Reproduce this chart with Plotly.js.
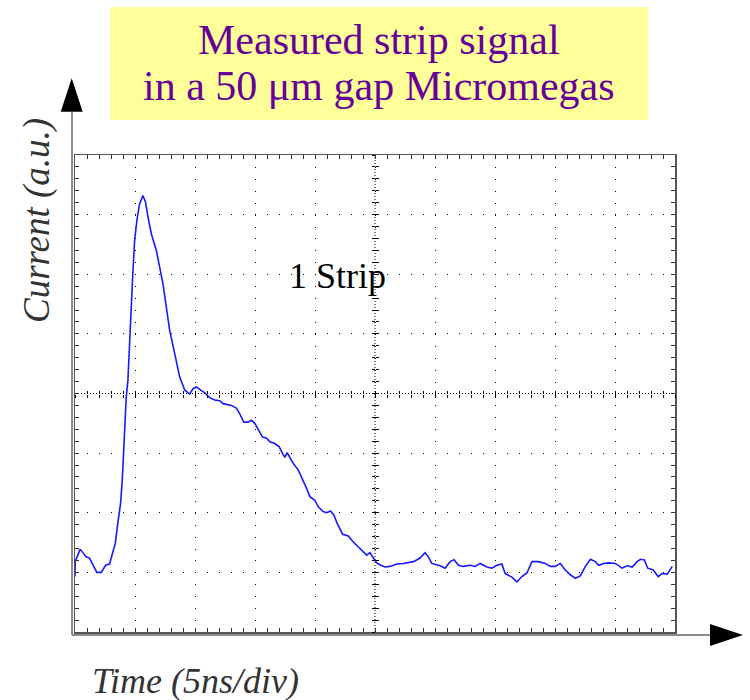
<!DOCTYPE html>
<html>
<head>
<meta charset="utf-8">
<script src="https://cdn.plot.ly/plotly-3.0.1.min.js"></script>
<style>html,body{margin:0;padding:0;background:#fff;}#chart{width:750px;height:700px;}</style>
</head>
<body>
<div id="chart"></div>
<script>
// Time in ns (5 ns / division), current in a.u. (divisions)
const timeNs = [0, 0.02, 0.43, 0.93, 1.21, 1.49, 1.82, 2.19, 2.55, 2.88, 3.16, 3.36, 3.57, 3.80, 3.94, 4.07, 4.27, 4.41, 4.55, 4.69,
  4.82, 4.97, 5.16, 5.38, 5.66, 5.88, 6.08, 6.36, 6.78, 7.05, 7.33, 7.61, 7.89, 8.31, 8.72, 9.14, 9.56, 9.83, 10.12, 10.39,
  10.81, 11.23, 11.64, 12.06, 12.34, 13.04, 13.46, 13.73, 14.06, 14.42, 14.71, 14.98, 15.26, 15.63, 15.96, 16.24, 16.65, 17.01, 17.30, 17.49,
  17.68, 17.90, 18.18, 18.60, 19.01, 19.30, 19.57, 19.99, 20.27, 20.68, 20.97, 21.30, 21.58, 21.85, 22.30, 22.77, 23.19, 23.61, 24.02, 24.31,
  24.58, 24.81, 25.14, 25.48, 25.83, 26.25, 26.81, 27.36, 28.20, 28.76, 29.17, 29.45, 29.73, 30.43, 30.84, 31.26, 31.59, 31.95, 32.37, 32.93,
  33.35, 33.76, 34.32, 34.74, 35.16, 35.57, 35.85, 36.41, 36.83, 37.24, 37.66, 38.08, 38.63, 39.19, 39.61, 40.02, 40.44, 40.86, 41.28, 41.69,
  42.11, 42.53, 42.95, 43.36, 43.64, 44.06, 44.47, 45.03, 45.59, 46.01, 46.43, 46.84, 47.12, 47.45, 47.73, 48.18, 48.60, 48.93, 49.35, 49.77];

const current = [-3.07, -2.82, -2.61, -2.74, -2.76, -2.88, -3.00, -3.00, -2.88, -2.86, -2.68, -2.51, -2.17, -1.84, -1.45, -0.95, -0.06, 0.22, 0.73, 1.45,
  2.02, 2.57, 2.91, 3.18, 3.32, 3.21, 2.96, 2.68, 2.40, 2.12, 1.84, 1.45, 1.06, 0.67, 0.28, 0.06, -0.01, 0.08, 0.11, 0.07,
  0.01, -0.07, -0.11, -0.12, -0.17, -0.20, -0.25, -0.34, -0.48, -0.48, -0.45, -0.50, -0.61, -0.73, -0.75, -0.81, -0.84, -0.89, -1.01, -1.07,
  -0.99, -1.07, -1.17, -1.28, -1.45, -1.59, -1.73, -1.79, -1.90, -1.98, -2.00, -1.97, -2.04, -2.18, -2.36, -2.39, -2.49, -2.57, -2.65, -2.71,
  -2.67, -2.74, -2.84, -2.88, -2.91, -2.90, -2.86, -2.85, -2.82, -2.76, -2.67, -2.74, -2.85, -2.89, -2.93, -2.82, -2.79, -2.88, -2.90, -2.88,
  -2.90, -2.85, -2.91, -2.93, -2.88, -2.86, -3.02, -3.08, -3.16, -3.07, -3.01, -2.82, -2.82, -2.85, -2.90, -2.90, -2.85, -2.96, -3.04, -3.10,
  -3.06, -2.90, -2.78, -2.82, -2.88, -2.85, -2.84, -2.85, -2.93, -2.89, -2.91, -2.82, -2.78, -2.79, -2.93, -2.96, -3.07, -3.02, -3.03, -2.90];

const xRange = [0, 50];     // 10 divisions of 5 ns
const yRange = [-4, 4];     // 8 divisions
const titleLines = ['Measured strip signal', 'in a 50 μm gap Micromegas'];
const xLabel = 'Time (5ns/div)';
const yLabel = 'Current (a.u.)';
const traceLabel = '1 Strip';

const serif = 'Liberation Serif';

const traces = [
  {x: timeNs, y: current, type: 'scatter', mode: 'lines',
   line: {color: 'rgb(25,25,255)', width: 1.6}, hoverinfo: 'skip'},
  {x: [], y: [], xaxis: 'x2', yaxis: 'y', type: 'scatter'},
  {x: [], y: [], xaxis: 'x3', yaxis: 'y', type: 'scatter'},
  {x: [], y: [], xaxis: 'x', yaxis: 'y2', type: 'scatter'},
  {x: [], y: [], xaxis: 'x', yaxis: 'y3', type: 'scatter'}
];

const centerTickX = {overlaying: 'x', anchor: 'free', position: 0.5, range: xRange, dtick: 1, tick0: 0,
  ticklen: 3, tickwidth: 1, tickcolor: '#000', showticklabels: false, showgrid: false, zeroline: false, showline: false, fixedrange: true};
const centerTickY = {overlaying: 'y', anchor: 'free', position: 0.5, range: yRange, dtick: 0.2, tick0: 0,
  ticklen: 3, tickwidth: 1, tickcolor: '#000', showticklabels: false, showgrid: false, zeroline: false, showline: false, fixedrange: true};

const layout = {
  width: 750, height: 700,
  margin: {l: 75, r: 75, t: 155, b: 68},
  paper_bgcolor: '#fff', plot_bgcolor: '#fff',
  showlegend: false,
  font: {family: serif},
  xaxis: {
    range: xRange, dtick: 5, tick0: 0, showgrid: true, gridcolor: '#000', gridwidth: 1, griddash: '1px,10.925px',
    zeroline: false, showline: true, linecolor: '#555', linewidth: 1.5, mirror: 'allticks',
    ticks: 'inside', ticklen: 4, tickcolor: '#333', tickwidth: 1, showticklabels: false,
    minor: {dtick: 1, ticks: 'inside', ticklen: 4, tickcolor: '#333', tickwidth: 1, showgrid: false},
    fixedrange: true
  },
  yaxis: {
    range: yRange, dtick: 1, tick0: 0, showgrid: true, gridcolor: '#000', gridwidth: 1, griddash: '1px,11px',
    zeroline: false, showline: true, linecolor: '#555', linewidth: 1.5, mirror: 'allticks',
    ticks: 'inside', ticklen: 4, tickcolor: '#333', tickwidth: 1, showticklabels: false,
    minor: {dtick: 0.2, ticks: 'inside', ticklen: 4, tickcolor: '#333', tickwidth: 1, showgrid: false},
    fixedrange: true
  },
  xaxis2: Object.assign({}, centerTickX, {ticks: 'inside'}),
  xaxis3: Object.assign({}, centerTickX, {ticks: 'outside'}),
  yaxis2: Object.assign({}, centerTickY, {ticks: 'inside'}),
  yaxis3: Object.assign({}, centerTickY, {ticks: 'outside'}),
  shapes: [
    {type: 'line', xref: 'x', yref: 'paper', x0: 25, x1: 25, y0: 0, y1: 1, layer: 'below',
     line: {color: '#000', width: 1, dash: '1px,2px'}},
    {type: 'line', xref: 'paper', yref: 'y', x0: 0, x1: 1, y0: 0, y1: 0, layer: 'below',
     line: {color: '#000', width: 1, dash: '1px,2px'}},
    {type: 'rect', xref: 'paper', yref: 'paper', x0: 0.0583, x1: 0.955, y0: 1.0734, y1: 1.3103,
     fillcolor: '#ffff99', line: {width: 0}, layer: 'above'},
    {type: 'line', xref: 'paper', yref: 'paper', x0: -0.005, x1: -0.005, y0: -0.0063, y1: 1.092,
     line: {color: '#666', width: 1.5}, layer: 'above'},
    {type: 'path', xref: 'paper', yref: 'paper', path: 'M -0.0055,1.1608 L -0.0238,1.0908 L 0.0128,1.0908 Z',
     fillcolor: '#000', line: {width: 0}, layer: 'above'},
    {type: 'line', xref: 'paper', yref: 'paper', x0: -0.005, x1: 1.06, y0: -0.0063, y1: -0.0063,
     line: {color: '#666', width: 1.5}, layer: 'above'},
    {type: 'path', xref: 'paper', yref: 'paper', path: 'M 1.1133,-0.0063 L 1.0583,0.0168 L 1.0583,-0.0294 Z',
     fillcolor: '#000', line: {width: 0}, layer: 'above'}
  ],
  annotations: [
    {text: titleLines[0], xref: 'paper', yref: 'paper', x: 0.5067, y: 1.2411, xanchor: 'center', yanchor: 'middle',
     showarrow: false, font: {family: serif, size: 42, color: '#660099'}},
    {text: titleLines[1], xref: 'paper', yref: 'paper', x: 0.5067, y: 1.1447, xanchor: 'center', yanchor: 'middle',
     showarrow: false, font: {family: serif, size: 42, color: '#660099'}},
    {text: yLabel, xref: 'paper', yref: 'paper', x: -0.0633, y: 0.8616, xanchor: 'center', yanchor: 'middle',
     textangle: -90, showarrow: false, font: {family: serif, size: 37, color: '#333', style: 'italic'}},
    {text: xLabel, xref: 'paper', yref: 'paper', x: 0.2, y: -0.1027, xanchor: 'center', yanchor: 'middle',
     showarrow: false, font: {family: serif, size: 36, color: '#333', style: 'italic'}},
    {text: traceLabel, xref: 'paper', yref: 'paper', x: 0.4367, y: 0.7463, xanchor: 'center', yanchor: 'middle',
     showarrow: false, font: {family: serif, size: 36, color: '#000'}}
  ]
};

Plotly.newPlot('chart', traces, layout, {displayModeBar: false, staticPlot: true});
</script>
</body>
</html>
